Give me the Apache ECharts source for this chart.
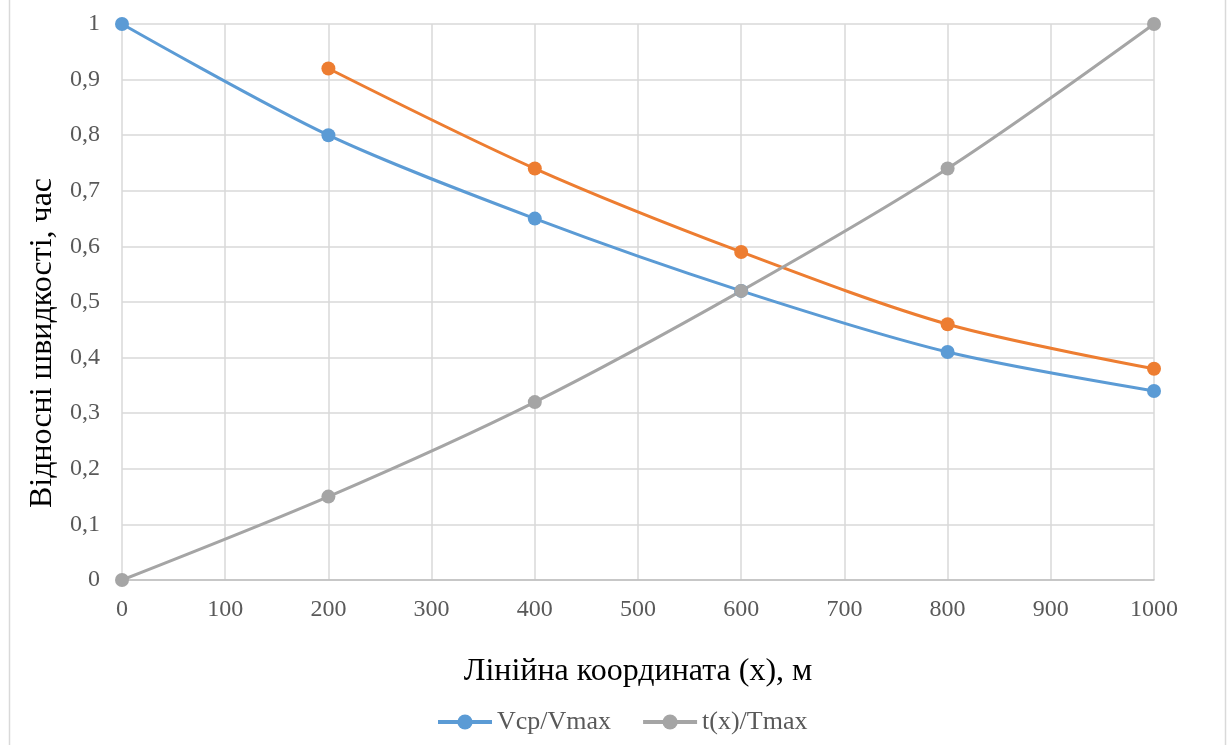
<!DOCTYPE html>
<html><head><meta charset="utf-8">
<script src="https://cdn.jsdelivr.net/npm/echarts@6/dist/echarts.min.js"></script>
<style>html,body{margin:0;padding:0;background:#fff}#c{width:1229px;height:745px}</style>
</head><body><div id="c"></div>
<script>
const xValues = [0, 200, 400, 600, 800, 1000];
const vRatio = [1, 0.8, 0.65, 0.52, 0.41, 0.34];
const orangeX = [200, 400, 600, 800, 1000];
const orangeVals = [0.92, 0.74, 0.59, 0.46, 0.38];
const tRatio = [0, 0.15, 0.32, 0.52, 0.74, 1];
const seriesNames = ['Vcp/Vmax', 'Ряд2', 't(x)/Tmax'];
const yTitle = 'Відносні швидкості, час';
const xTitle = 'Лінійна координата (x), м';

const pairs = (xs, ys) => xs.map((x, i) => [x, ys[i]]);
const font = 'Liberation Serif, Times New Roman, serif';
const chart = echarts.init(document.getElementById('c'));
const mk = (name, data, color) => ({
  name, type: 'line', data, smooth: 0.3, symbol: 'circle', symbolSize: 14,
  lineStyle: {color, width: 3}, itemStyle: {color}, animation: false
});
chart.setOption({
  backgroundColor: '#fff',
  textStyle: {fontFamily: font},
  graphic: [
    {type: 'line', shape: {x1: 9.5, y1: 0, x2: 9.5, y2: 745}, style: {stroke: '#d9d9d9', lineWidth: 1.5}},
    {type: 'line', shape: {x1: 1225.5, y1: 0, x2: 1225.5, y2: 745}, style: {stroke: '#d9d9d9', lineWidth: 1.5}},
    {type: 'text', x: 43, y: 343, rotation: Math.PI / 2,
      style: {text: yTitle, font: '32px ' + font, fill: '#000', textAlign: 'center', textVerticalAlign: 'middle'}}
  ],
  grid: {left: 122, right: 75, top: 24, bottom: 165},
  legend: {
    data: [seriesNames[0], seriesNames[2]], top: 704, left: 431, itemWidth: 54, itemHeight: 19, itemGap: 30,
    lineStyle: {width: 4},
    textStyle: {fontFamily: font, fontSize: 26, color: '#595959'}
  },
  xAxis: {
    type: 'value', min: 0, max: 1000, interval: 100,
    name: xTitle, nameLocation: 'middle', nameGap: 76,
    nameTextStyle: {fontFamily: font, fontSize: 32, color: '#000'},
    axisLine: {lineStyle: {color: '#bfbfbf', width: 1.5}}, axisTick: {show: false},
    axisLabel: {fontFamily: font, fontSize: 24, color: '#595959', margin: 18, formatter: v => String(v)},
    splitLine: {show: true, lineStyle: {color: '#d9d9d9', width: 1.5}}
  },
  yAxis: {
    type: 'value', min: 0, max: 1, interval: 0.1,
    axisLine: {show: false}, axisTick: {show: false},
    axisLabel: {fontFamily: font, fontSize: 24, color: '#595959', margin: 22,
      formatter: v => String(Math.round(v * 10) / 10).replace('.', ',')},
    splitLine: {show: true, lineStyle: {color: '#d9d9d9', width: 1.5}}
  },
  series: [
    mk(seriesNames[0], pairs(xValues, vRatio), '#5B9BD5'),
    mk(seriesNames[1], pairs(orangeX, orangeVals), '#ED7D31'),
    mk(seriesNames[2], pairs(xValues, tRatio), '#A5A5A5')
  ]
});
</script></body></html>
